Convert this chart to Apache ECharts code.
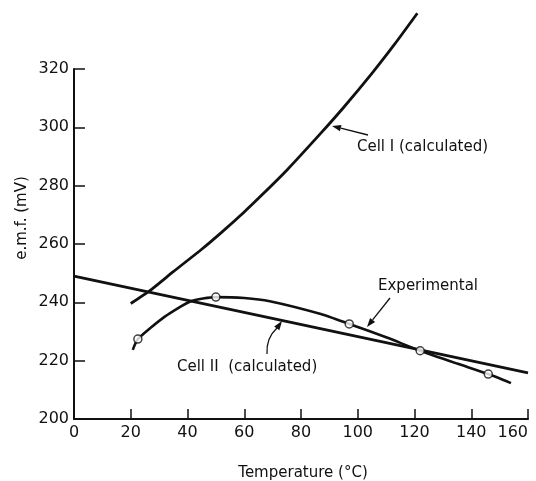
<!DOCTYPE html>
<html>
<head>
<meta charset="utf-8">
<script src="https://cdn.jsdelivr.net/npm/echarts@6/dist/echarts.min.js"></script>
<style>
  html, body { margin: 0; padding: 0; background: #fff; }
  #main { width: 536px; height: 481px; }
</style>
</head>
<body>
<div id="main"></div>
<script>
/* ---------------- data (temperature °C, e.m.f. mV) ---------------- */
let cell1 = [[20, 239.6], [27, 244.2], [35, 250.5], [45, 258.2], [52, 264.0], [60, 271], [66, 276.6],
    [75, 285.3], [87, 298.0], [95, 306.8], [105, 318.5], [113, 328.5], [121, 339.1]];
let cell2 = [[0, 249], [160, 215.8]];
let experimental = [[20.7, 223.7], [22.5, 227.4], [32, 235.1], [41, 240.3], [50, 241.8], [60, 241.5],
    [69, 240.4], [87, 236.0], [97, 232.6], [110, 228.0], [122, 223.4], [135, 219.0], [146, 215.4], [154, 212.3]];
let expPoints = [[22.5, 227.4], [50, 241.8], [97, 232.6], [122, 223.4], [146, 215.4]];
let xTicks = [0, 20, 40, 60, 80, 100, 120, 140, 160];
let yTicks = [200, 220, 240, 260, 280, 300, 320];

let font = 'DejaVu Sans';
let ink = '#111';

// arrow: line from tail to tip + a small filled head
let arrow = function (x1, y1, x2, y2) {
    let a = Math.atan2(y2 - y1, x2 - x1), L = 9, W = 3.2;
    let bx = x2 - L * Math.cos(a), by = y2 - L * Math.sin(a);
    return [
        { type: 'line', shape: { x1: x1, y1: y1, x2: bx, y2: by }, style: { stroke: ink, lineWidth: 1.3 } },
        { type: 'polygon', shape: { points: [[x2, y2],
            [bx + W * Math.sin(a), by - W * Math.cos(a)], [bx - W * Math.sin(a), by + W * Math.cos(a)]] },
          style: { fill: ink } }
    ];
};
let label = function (text, x, y) {
    return { type: 'text', x: x, y: y, style: { text: text, font: '15px "' + font + '"', fill: ink, verticalAlign: 'middle' } };
};

let graphics = [].concat(
    label('Cell I (calculated)', 357, 147),
    arrow(368, 135, 332, 126),
    label('Experimental', 378, 286),
    arrow(390, 298, 367, 327),
    label('Cell II  (calculated)', 177, 367),
    [{ type: 'bezierCurve', shape: { x1: 267, y1: 354, x2: 277, y2: 328, cpx1: 266, cpy1: 338 },
       style: { stroke: ink, lineWidth: 1.3, fill: null } }],
    arrow(277, 328, 282, 321),
    [{ type: 'text', x: 22, y: 218, rotation: Math.PI / 2,
       style: { text: 'e.m.f. (mV)', font: '15px "' + font + '"', fill: ink, align: 'center', verticalAlign: 'middle' } },
     { type: 'text', x: 303, y: 473,
       style: { text: 'Temperature (°C)', font: '15px "' + font + '"', fill: ink, align: 'center', verticalAlign: 'middle' } }]
);

let chart = echarts.init(document.getElementById('main'));
chart.setOption({
    backgroundColor: '#fff',
    animation: false,
    grid: { left: 74, right: 8, top: 69, bottom: 62, outerBoundsMode: 'none' },
    xAxis: {
        type: 'value', min: xTicks[0], max: xTicks[xTicks.length - 1], interval: 20,
        axisLine: { onZero: false, lineStyle: { color: ink, width: 2 } },
        axisTick: { inside: true, length: 10, lineStyle: { color: ink, width: 1.5 } },
        axisLabel: { color: ink, fontFamily: font, fontSize: 16, margin: 6, alignMaxLabel: 'right' },
        splitLine: { show: false }
    },
    yAxis: {
        type: 'value', min: yTicks[0], max: yTicks[yTicks.length - 1], interval: 20,
        axisLine: { show: true, lineStyle: { color: ink, width: 2 } },
        axisTick: { show: true, inside: true, length: 11, lineStyle: { color: ink, width: 1.5 } },
        axisLabel: { color: ink, fontFamily: font, fontSize: 16, margin: 5 },
        splitLine: { show: false }
    },
    series: [
        { name: 'Cell I (calculated)', type: 'line', data: cell1, smooth: 0.2, clip: false,
          showSymbol: false, lineStyle: { color: ink, width: 2.8 } },
        { name: 'Cell II (calculated)', type: 'line', data: cell2, showSymbol: false,
          lineStyle: { color: ink, width: 2.8 } },
        { name: 'Experimental', type: 'line', data: experimental, smooth: 0.2, showSymbol: false,
          lineStyle: { color: ink, width: 2.6 } },
        { name: 'Experimental points', type: 'scatter', data: expPoints, symbol: 'circle', symbolSize: 8, z: 5,
          itemStyle: { color: '#fff', borderColor: ink, borderWidth: 1.5 } }
    ],
    graphic: graphics
});
</script>
</body>
</html>
